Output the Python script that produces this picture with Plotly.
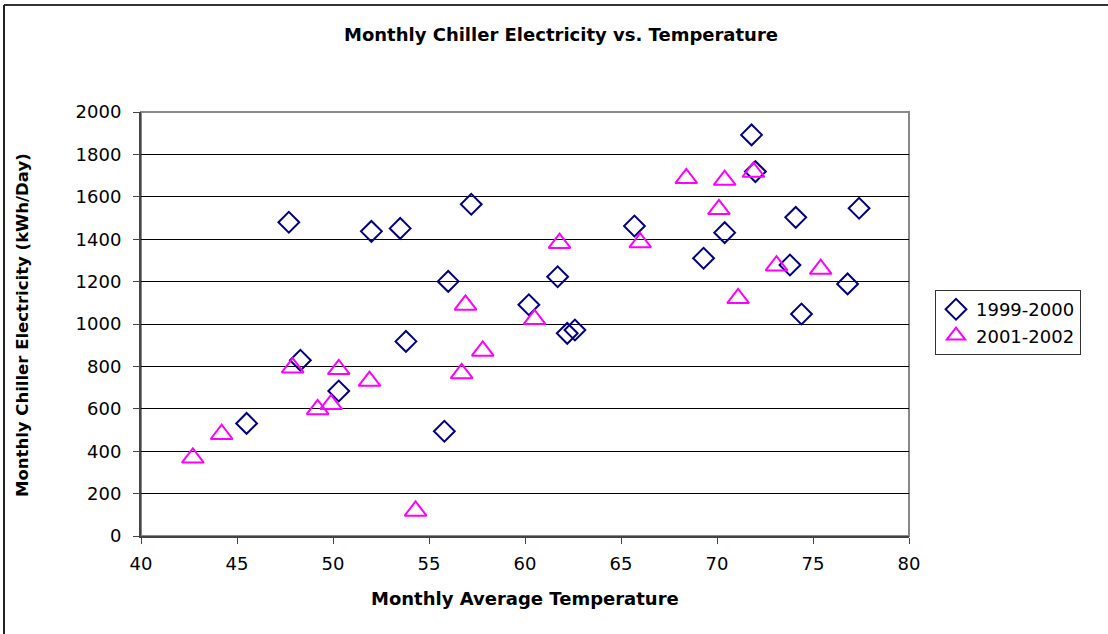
import plotly.graph_objects as go

# Monthly average temperature (°F) and chiller electricity (kWh/day)
temp_1999_2000 = [47.7, 52.0, 53.5, 57.2, 56.0, 60.2, 53.8, 48.3, 50.3, 45.5, 55.8, 71.8,
                  72.0, 77.4, 74.1, 65.7, 70.4, 69.3, 73.8, 61.7, 76.8, 74.4, 62.2, 62.6]
elec_1999_2000 = [1480, 1437, 1451, 1565, 1201, 1091, 918, 829, 684, 531, 494, 1892,
                  1719, 1546, 1503, 1462, 1431, 1310, 1278, 1223, 1189, 1047, 956, 972]

temp_2001_2002 = [42.7, 44.2, 47.9, 50.3, 51.9, 49.2, 49.9, 54.3, 56.9, 56.7, 57.8,
                  68.4, 70.4, 71.9, 70.1, 61.8, 66.0, 73.1, 75.4, 71.1, 60.5]
elec_2001_2002 = [369, 480, 794, 786, 731, 597, 621, 118, 1090, 767, 873,
                  1687, 1679, 1717, 1541, 1381, 1384, 1275, 1259, 1121, 1022]

x_ticks = [40, 45, 50, 55, 60, 65, 70, 75, 80]
y_ticks = [0, 200, 400, 600, 800, 1000, 1200, 1400, 1600, 1800, 2000]

FONT = "DejaVu Sans"
W, H = 1108, 634
L, R, T, B = 141, 199, 112, 98
PW, PH = W - L - R, H - T - B


def px_x(p):
    return (p - L) / PW


def px_y(p):
    return (H - B - p) / PH


fig = go.Figure()
fig.add_trace(go.Scatter(
    x=temp_1999_2000, y=elec_1999_2000, mode="markers", name="1999-2000",
    marker=dict(symbol="diamond-open", size=16, color="#000080",
                line=dict(width=2, color="#000080")),
))
fig.add_trace(go.Scatter(
    x=temp_2001_2002, y=elec_2001_2002, mode="markers", name="2001-2002",
    marker=dict(symbol="triangle-up-open", size=19, color="#FF00FF",
                line=dict(width=2, color="#FF00FF")),
))

fig.update_layout(
    width=W, height=H,
    margin=dict(l=L, r=R, t=T, b=B),
    paper_bgcolor="white", plot_bgcolor="white",
    font=dict(family=FONT, size=17, color="black"),
    title=dict(text="<b>Monthly Chiller Electricity vs. Temperature</b>",
               font=dict(family=FONT, size=18, color="black"),
               xref="container", x=561 / W, xanchor="center",
               yref="container", y=1 - 35 / H, yanchor="middle"),
    showlegend=True,
    legend=dict(x=px_x(935), y=px_y(290), xanchor="left", yanchor="top",
                bgcolor="white", bordercolor="#333333", borderwidth=1,
                font=dict(family=FONT, size=18, color="black"),
                itemwidth=30, tracegroupgap=0),
    xaxis=dict(range=[40, 80], tickvals=x_ticks, ticktext=[str(v) for v in x_ticks],
               showgrid=False, zeroline=False,
               showline=True, linecolor="#444444", linewidth=2,
               ticks="outside", ticklen=6, tickcolor="#444444", tickwidth=1,
               tickfont=dict(family=FONT, size=18, color="black"),
               ticklabelstandoff=4),
    yaxis=dict(range=[0, 2000], tickvals=y_ticks, ticktext=[str(v) for v in y_ticks],
               showgrid=True, gridcolor="black", gridwidth=1, zeroline=False,
               showline=True, linecolor="#444444", linewidth=2,
               ticks="outside", ticklen=6, tickcolor="#444444", tickwidth=1,
               tickfont=dict(family=FONT, size=18, color="black"),
               ticklabelstandoff=8),
    annotations=[
        dict(text="<b>Monthly Average Temperature</b>", xref="paper", yref="paper",
             x=px_x(525), y=px_y(598), xanchor="center", yanchor="middle", showarrow=False,
             font=dict(family=FONT, size=18, color="black")),
        dict(text="<b>Monthly Chiller Electricity (kWh/Day)</b>", xref="paper", yref="paper",
             x=px_x(22), y=px_y(325), xanchor="center", yanchor="middle", showarrow=False,
             textangle=-90, font=dict(family=FONT, size=16.5, color="black")),
    ],
    shapes=[
        # plot-area frame (top and right edges)
        dict(type="rect", xref="x domain", yref="y domain", x0=0, x1=1, y0=0, y1=1,
             line=dict(color="#888888", width=2), layer="below"),
        # chart-area outline
        dict(type="line", xref="paper", yref="paper",
             x0=px_x(4), x1=px_x(W + 5), y0=px_y(5), y1=px_y(5),
             line=dict(color="#333333", width=2)),
        dict(type="line", xref="paper", yref="paper",
             x0=px_x(4), x1=px_x(4), y0=px_y(5), y1=px_y(H + 5),
             line=dict(color="#222222", width=2)),
    ],
)

fig.write_html("out.html")
